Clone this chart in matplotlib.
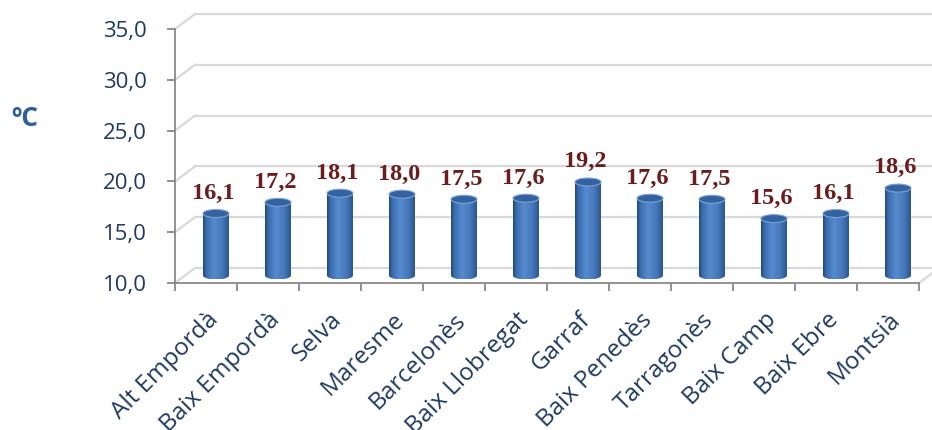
import numpy as np
import matplotlib
matplotlib.use("Agg")
import matplotlib.pyplot as plt
from matplotlib.path import Path
from matplotlib.patches import PathPatch, Ellipse
from matplotlib.colors import LinearSegmentedColormap

comarques = ["Alt Empordà", "Baix Empordà", "Selva", "Maresme", "Barcelonès",
             "Baix Llobregat", "Garraf", "Baix Penedès", "Tarragonès",
             "Baix Camp", "Baix Ebre", "Montsià"]
temperatura = [16.1, 17.2, 18.1, 18.0, 17.5, 17.6, 19.2, 17.6, 17.5, 15.6, 16.1, 18.6]
y_ticks = [10, 15, 20, 25, 30, 35]

W, H, DPI = 932, 430, 100
fig = plt.figure(figsize=(W / DPI, H / DPI), dpi=DPI)
# axes rectangle in pixels: front plane of the 3D box
x0, x1, yb, yt = 175, 919, 283, 29
ax = fig.add_axes([x0 / W, 1 - yb / H, (x1 - x0) / W, (yb - yt) / H])

n = len(comarques)
ymin, ymax = 10, 35
ux = n / (x1 - x0)          # data units per pixel (x)
uy = (ymax - ymin) / (yb - yt)  # data units per pixel (y)
DX, DY = 20 * ux, 15 * uy   # depth of the box

grid_c = "#D9D9D9"
axis_c = "#898989"
text_c = "#1F3A60"

# back wall gridlines + side wall diagonals
for v in y_ticks:
    ax.plot([DX, n + DX + 2], [v + DY, v + DY], color=grid_c, lw=1.6,
            clip_on=False, zorder=1)
    ax.plot([0, DX], [v, v + DY], color=grid_c, lw=1.6, clip_on=False, zorder=1)
# floor
ax.plot([n, n + DX], [ymin, ymin + DY], color=grid_c, lw=1.6, clip_on=False, zorder=1)

# cylinders
cmap = LinearSegmentedColormap.from_list(
    "cyl", [(0, "#24497A"), (0.12, "#3A6CAD"), (0.42, "#568ACE"),
            (0.75, "#4677BA"), (1, "#2A5790")])
grad = cmap(np.linspace(0, 1, 64))[None, :, :]
hw = 13 * ux
eh = 4 * uy
for i, v in enumerate(temperatura):
    xc = i + 0.5 + DX / 2
    base = ymin + DY / 2
    top = v + DY / 2
    t = np.linspace(0, np.pi, 40)
    pts = [(xc - hw, base), (xc - hw, top), (xc + hw, top), (xc + hw, base)]
    pts += list(zip(xc + hw * np.cos(t), base - eh * np.sin(t)))
    path = Path(pts + [pts[0]], [Path.MOVETO] + [Path.LINETO] * (len(pts) - 1) + [Path.CLOSEPOLY])
    patch = PathPatch(path, transform=ax.transData)
    im = ax.imshow(grad, extent=[xc - hw, xc + hw, base - eh, top], aspect="auto",
                   interpolation="bilinear", zorder=3, clip_on=True)
    im.set_clip_path(patch)
    ax.add_patch(Ellipse((xc, top), 2 * hw, 2 * eh, fc="#34629F", ec="#7BA4DA",
                         lw=0.8, zorder=4, clip_on=False))
    ax.annotate(f"{v:.1f}".replace(".", ","), (xc, top), xytext=(-2, 7),
                textcoords="offset points", ha="center", va="bottom",
                fontsize=17.5, fontweight="bold", family="Liberation Serif",
                color="#6B1C1C", zorder=5, annotation_clip=False)

ax.set_xlim(0, n)
ax.set_ylim(ymin, ymax)
for s in ["top", "right"]:
    ax.spines[s].set_visible(False)
for s in ["left", "bottom"]:
    ax.spines[s].set_color(axis_c)
    ax.spines[s].set_linewidth(1.3)
ax.set_facecolor("none")

ax.set_yticks(y_ticks)
ax.set_yticklabels([f"{v:.1f}".replace(".", ",") for v in y_ticks])
ax.tick_params(axis="y", length=6, width=1.3, color=axis_c, pad=14,
               labelsize=16, labelcolor=text_c)
ax.set_xticks(range(n + 1))
ax.set_xticklabels([])
ax.tick_params(axis="x", which="major", length=6, width=1.3, color=axis_c)
ax.set_xticks(np.arange(n) + 0.5, minor=True)
ax.set_xticklabels(comarques, minor=True)
ax.tick_params(axis="x", which="minor", length=0, pad=18, labelsize=17.5,
               labelcolor=text_c)
for lab in ax.get_xticklabels(minor=True) + ax.get_yticklabels():
    lab.set_family("Open Sans")
plt.setp(ax.get_xticklabels(minor=True), rotation=45, ha="right",
         rotation_mode="anchor")

fig.text(25 / W, 1 - 118 / H, "ºC", ha="center", va="center", fontsize=19,
         fontweight="bold", family="Open Sans", color="#2F5E99")

fig.savefig("out.png", dpi=DPI)
